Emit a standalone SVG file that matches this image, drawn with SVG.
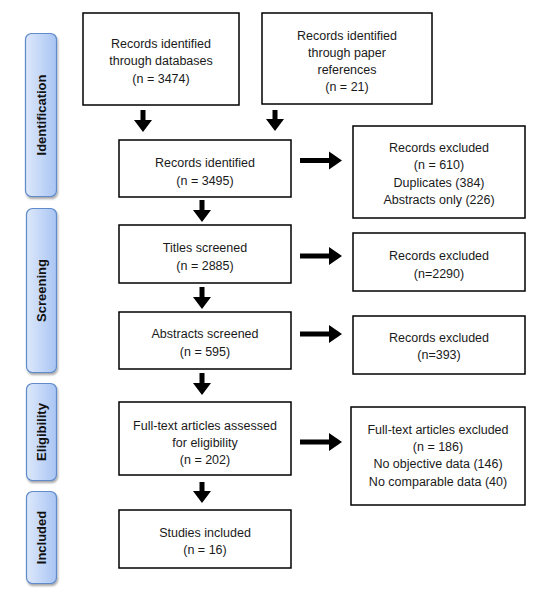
<svg xmlns="http://www.w3.org/2000/svg" width="540" height="600" viewBox="0 0 540 600">
  <defs>
    <linearGradient id="phaseGrad" x1="0" y1="0" x2="1" y2="0">
      <stop offset="0" stop-color="#dde8fb"/>
      <stop offset="1" stop-color="#a9c5f3"/>
    </linearGradient>
    <filter id="shadow" x="-20%" y="-10%" width="150%" height="130%">
      <feGaussianBlur in="SourceAlpha" stdDeviation="1.2"/>
      <feOffset dx="1" dy="2" result="b"/>
      <feComponentTransfer><feFuncA type="linear" slope="0.35"/></feComponentTransfer>
      <feMerge><feMergeNode/><feMergeNode in="SourceGraphic"/></feMerge>
    </filter>
    <style>
      .box { fill: #ffffff; stroke: #000000; stroke-width: 1.5; }
      .phase { fill: url(#phaseGrad); stroke: #5f8bcb; stroke-width: 1.2; filter: url(#shadow); }
      .t { font-family: "Liberation Sans", Arial, sans-serif; font-size: 12.5px; fill: #1a1a1a; text-anchor: middle; }
      .pt { font-family: "Liberation Sans", Arial, sans-serif; font-size: 13px; font-weight: bold; fill: #111111; text-anchor: middle; }
      .arrow { fill: #000000; }
    </style>
  </defs>

  <g id="phase-identification">
    <rect class="phase" x="25.5" y="33.5" width="31" height="163" rx="6"/>
    <text class="pt" transform="translate(45.5,115) rotate(-90)">Identification</text>
  </g>
  <g id="phase-screening">
    <rect class="phase" x="26.5" y="208.5" width="30" height="164" rx="6"/>
    <text class="pt" transform="translate(45.5,290.5) rotate(-90)">Screening</text>
  </g>
  <g id="phase-eligibility">
    <rect class="phase" x="26.5" y="383.5" width="30" height="97" rx="6"/>
    <text class="pt" transform="translate(45.5,432) rotate(-90)">Eligibility</text>
  </g>
  <g id="phase-included">
    <rect class="phase" x="26.5" y="491.5" width="30" height="92" rx="6"/>
    <text class="pt" transform="translate(45.5,537.5) rotate(-90)">Included</text>
  </g>

  <g id="node-databases">
    <rect class="box" x="83" y="13" width="156" height="92"/>
    <text class="t" x="161" y="47.5">Records identified</text>
    <text class="t" x="161" y="65">through databases</text>
    <text class="t" x="161" y="83">(n = 3474)</text>
  </g>
  <g id="node-references">
    <rect class="box" x="262" y="13" width="170" height="91"/>
    <text class="t" x="347" y="39.5">Records identified</text>
    <text class="t" x="347" y="56.5">through paper</text>
    <text class="t" x="347" y="73.5">references</text>
    <text class="t" x="347" y="91">(n = 21)</text>
  </g>
  <g id="node-identified">
    <rect class="box" x="119" y="140" width="172" height="57"/>
    <text class="t" x="205" y="166.5">Records identified</text>
    <text class="t" x="205" y="184.5">(n = 3495)</text>
  </g>
  <g id="node-titles">
    <rect class="box" x="119" y="225" width="172" height="58"/>
    <text class="t" x="205" y="251.5">Titles screened</text>
    <text class="t" x="205" y="269.5">(n = 2885)</text>
  </g>
  <g id="node-abstracts">
    <rect class="box" x="119" y="312" width="172" height="57"/>
    <text class="t" x="205" y="337.5">Abstracts screened</text>
    <text class="t" x="205" y="356">(n = 595)</text>
  </g>
  <g id="node-fulltext">
    <rect class="box" x="119" y="402" width="172" height="73"/>
    <text class="t" x="205" y="429.5">Full-text articles assessed</text>
    <text class="t" x="205" y="446.5">for eligibility</text>
    <text class="t" x="205" y="463.5">(n = 202)</text>
  </g>
  <g id="node-included">
    <rect class="box" x="119" y="510" width="172" height="58"/>
    <text class="t" x="205" y="536.5">Studies included</text>
    <text class="t" x="205" y="553.5">(n = 16)</text>
  </g>

  <g id="node-excluded1">
    <rect class="box" x="353" y="126" width="172" height="92"/>
    <text class="t" x="439" y="151.5">Records excluded</text>
    <text class="t" x="439" y="169">(n = 610)</text>
    <text class="t" x="439" y="186.5">Duplicates (384)</text>
    <text class="t" x="439" y="204">Abstracts only (226)</text>
  </g>
  <g id="node-excluded2">
    <rect class="box" x="353" y="233" width="172" height="58"/>
    <text class="t" x="439" y="259.5">Records excluded</text>
    <text class="t" x="439" y="277.5">(n=2290)</text>
  </g>
  <g id="node-excluded3">
    <rect class="box" x="353" y="316" width="172" height="58"/>
    <text class="t" x="439" y="341.5">Records excluded</text>
    <text class="t" x="439" y="358.5">(n=393)</text>
  </g>
  <g id="node-excluded4">
    <rect class="box" x="351" y="407" width="174" height="98"/>
    <text class="t" x="438" y="433.5">Full-text articles excluded</text>
    <text class="t" x="438" y="451">(n = 186)</text>
    <text class="t" x="438" y="467.5">No objective data (146)</text>
    <text class="t" x="438" y="485.5">No comparable data (40)</text>
  </g>

  <g id="connectors">
    <path class="arrow" d="M140.5,110 h5 v10 h6.5 l-9,12 l-9,-12 h6.5 z"/>
    <path class="arrow" d="M272.5,110 h5 v9 h6.5 l-9,12 l-9,-12 h6.5 z"/>
    <path class="arrow" d="M199.5,200 h5 v10 h6.5 l-9,12 l-9,-12 h6.5 z"/>
    <path class="arrow" d="M199.5,287 h5 v10 h6.5 l-9,12 l-9,-12 h6.5 z"/>
    <path class="arrow" d="M199.5,373 h5 v10 h6.5 l-9,12 l-9,-12 h6.5 z"/>
    <path class="arrow" d="M199.5,482 h5 v9 h6.5 l-9,12 l-9,-12 h6.5 z"/>
    <path class="arrow" d="M300,158 h29 v-6.5 l13,9 l-13,9 v-6.5 h-29 z"/>
    <path class="arrow" d="M300,253.5 h29 v-6.5 l13,9 l-13,9 v-6.5 h-29 z"/>
    <path class="arrow" d="M300,331.5 h29 v-6.5 l13,9 l-13,9 v-6.5 h-29 z"/>
    <path class="arrow" d="M300,439.5 h29 v-6.5 l13,9 l-13,9 v-6.5 h-29 z"/>
  </g>
</svg>
